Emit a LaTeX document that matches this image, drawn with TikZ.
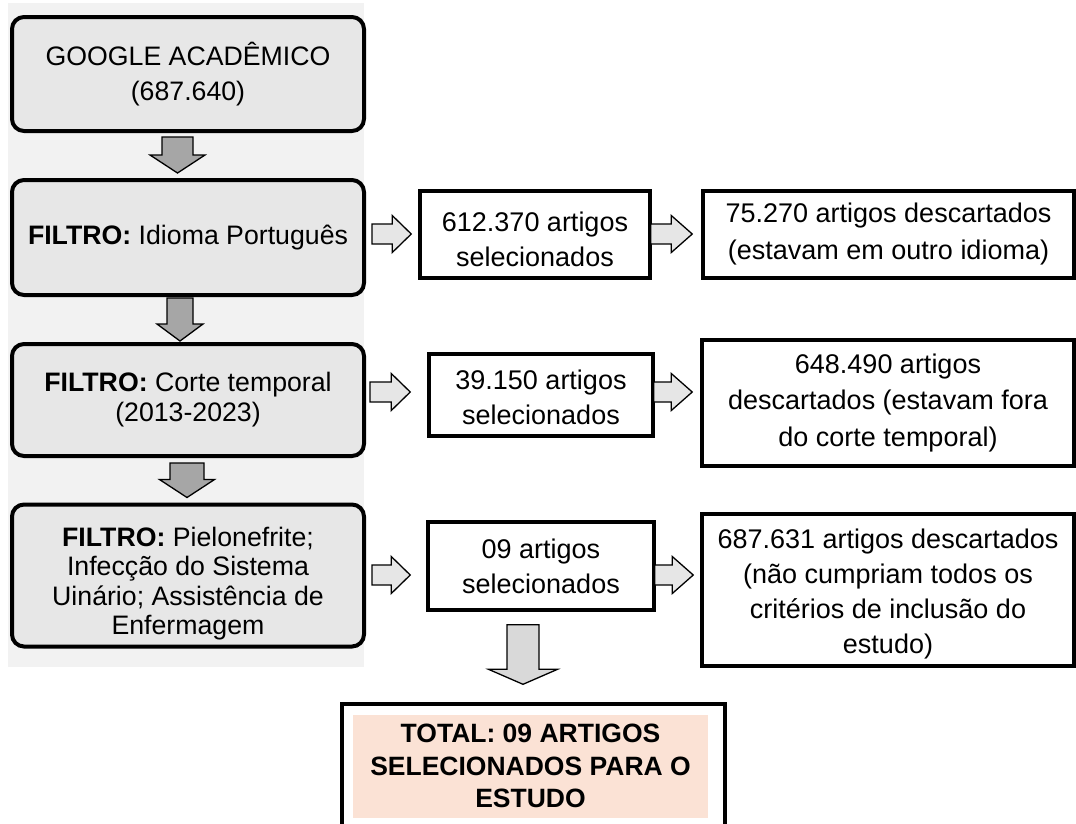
\documentclass[tikz,border=0pt]{standalone}
\usepackage{fontspec}
\setmainfont{Liberation Sans}
\usetikzlibrary{calc}
\definecolor{panel}{HTML}{F2F2F2}
\definecolor{boxgray}{HTML}{E7E7E7}
\definecolor{arrdark}{HTML}{A6A6A6}
\definecolor{arrlight}{HTML}{E6E6E6}
\definecolor{arrbig}{HTML}{D9D9D9}
\definecolor{peach}{HTML}{FBE2D5}
% vertical block arrow: from, to, x, shaft half, head half, head length, top gap, bottom gap, fill
\newcommand{\vblk}[9]{%
 \draw[blockarrow, fill=#9] let \p1=(#1.south), \p2=(#2.north) in
 (#3pt-#4pt,\y1-#7pt) -- (#3pt+#4pt,\y1-#7pt) -- (#3pt+#4pt,\y2+#8pt+#6pt) -- (#3pt+#5pt,\y2+#8pt+#6pt) -- (#3pt,\y2+#8pt) -- (#3pt-#5pt,\y2+#8pt+#6pt) -- (#3pt-#4pt,\y2+#8pt+#6pt) -- cycle;}
% horizontal block arrow: from, to, y, shaft half, head half, head length, left gap, right gap, fill
\newcommand{\hblk}[9]{%
 \draw[blockarrow, fill=#9] let \p1=(#1.east), \p2=(#2.west) in
 (\x1+#7pt,-#3pt+#4pt) -- (\x2-#8pt-#6pt,-#3pt+#4pt) -- (\x2-#8pt-#6pt,-#3pt+#5pt) -- (\x2-#8pt,-#3pt) -- (\x2-#8pt-#6pt,-#3pt-#5pt) -- (\x2-#8pt-#6pt,-#3pt-#4pt) -- (\x1+#7pt,-#3pt-#4pt) -- cycle;}
\newcommand{\up}[1]{\rule{0pt}{#1pt}}
\begin{document}
\begin{tikzpicture}[x=1pt,y=-1pt,
  filterbox/.style={draw, line width=4pt, rounded corners=12pt, fill=boxgray, align=center, inner sep=0pt, font=\fontsize{26.7}{30}\selectfont},
  plainbox/.style={draw, line width=3.5pt, fill=white, align=center, inner sep=0pt, font=\fontsize{27}{35}\selectfont},
  blockarrow/.style={draw, line width=1.3pt, line join=miter}]
\useasboundingbox (0,0) rectangle (1076,823);
\clip (0,0) rectangle (1076,823);
\fill[panel] (8,3) rectangle (364,667);

\node[filterbox, minimum width=352pt, minimum height=114pt] (b1) at (188,74) {GOOGLE ACADÊMICO\\[5pt](687.640)};
\node[filterbox, minimum width=352pt, minimum height=115pt] (b2) at (188,237.5) {\textbf{FILTRO:} Idioma Português};
\node[filterbox, minimum width=352pt, minimum height=112pt] (b3) at (188,400) {\textbf{FILTRO:} Corte temporal\\(2013-2023)};
\node[filterbox, minimum width=352pt, minimum height=142pt, font=\fontsize{26.7}{29.5}\selectfont] (b4) at (188,575.5) {\up{36}\textbf{FILTRO:} Pielonefrite;\\Infecção do Sistema\\Uinário; Assistência de\\Enfermagem};

\node[plainbox, minimum width=230pt, minimum height=87pt] (m1) at (535,234.5) {\up{30}612.370 artigos\\selecionados};
\node[plainbox, minimum width=224pt, minimum height=82pt] (m2) at (541,395) {\up{24}39.150 artigos\\selecionados};
\node[plainbox, minimum width=226pt, minimum height=88pt] (m3) at (541,566) {09 artigos\\selecionados};

\node[plainbox, minimum width=371pt, minimum height=87pt, font=\fontsize{27}{37}\selectfont] (d1) at (888.5,234.5) {75.270 artigos descartados\\(estavam em outro idioma)};
\node[plainbox, minimum width=372pt, minimum height=126pt, font=\fontsize{27}{36.5}\selectfont] (d2) at (888,403) {648.490 artigos\\descartados (estavam fora\\do corte temporal)};
\node[plainbox, minimum width=372pt, minimum height=152pt] (d3) at (888,590) {\up{28}687.631 artigos descartados\\(não cumpriam todos os\\critérios de inclusão do\\estudo)};

\draw[line width=3.5pt] (342,900) -- (342,704) -- (725,704) -- (725,900);
\node[fill=peach, minimum width=355pt, minimum height=103pt, inner sep=0pt, align=center, font=\bfseries\fontsize{26.5}{32.5}\selectfont] (total) at (530.5,766) {TOTAL: 09 ARTIGOS\\SELECIONADOS PARA O\\ESTUDO};

\vblk{b1}{b2}{177.5}{15.5}{27.5}{18}{4}{5}{arrdark}
\vblk{b2}{b3}{180}{13}{23}{17}{1}{1}{arrdark}
\vblk{b3}{b4}{187}{17}{27.5}{18}{5}{5}{arrdark}
\vblk{m3}{total}{523}{16}{34.5}{15}{13}{30}{arrbig}

\hblk{b2}{m1}{234}{10}{18.5}{19}{6}{7}{arrlight}
\hblk{m1}{d1}{234}{10}{18.5}{21}{-1}{9}{arrlight}
\hblk{b3}{m2}{392}{10}{18.5}{19}{4}{17}{arrlight}
\hblk{m2}{d2}{392}{10}{18.5}{21}{-1}{8}{arrlight}
\hblk{b4}{m3}{575}{10}{18.5}{19}{6}{16}{arrlight}
\hblk{m3}{d3}{575}{10}{18.5}{21}{-1}{7}{arrlight}
\end{tikzpicture}
\end{document}
